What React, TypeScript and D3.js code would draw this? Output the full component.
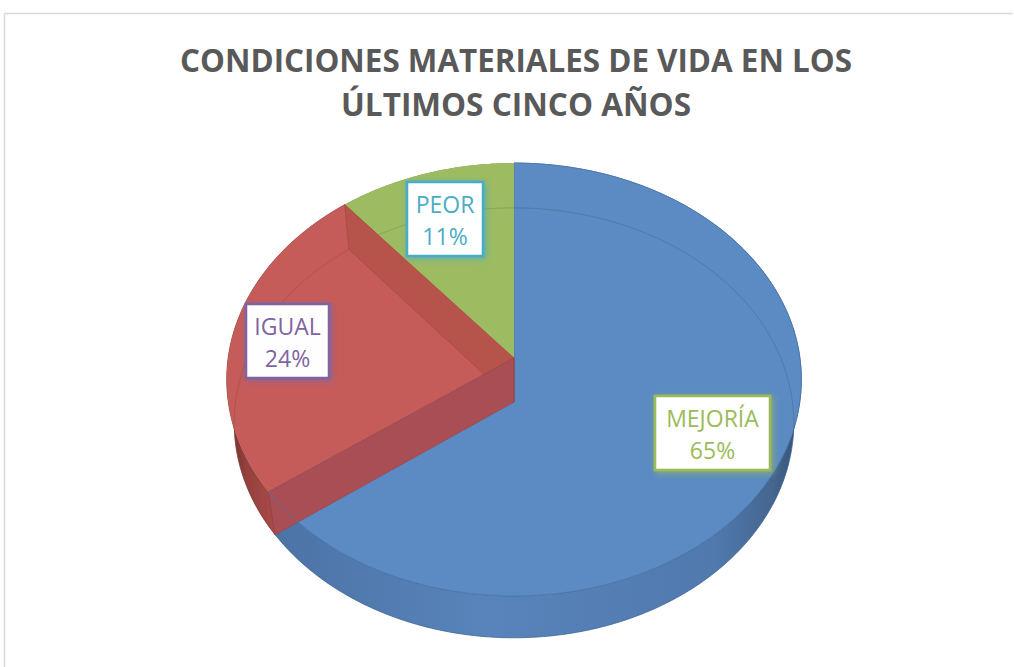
import React from "react";
import * as d3 from "d3";

// ---- data ----
const categories = ["MEJORÍA", "IGUAL", "PEOR"];
const values = [65, 24, 11];
const percentLabels = ["65%", "24%", "11%"];
const topColors = ["#5B8BC2", "#C55C59", "#9DBB61"];
const labelColors = ["#9BBB59", "#8064A2", "#4BACC6"];
const titleLines = ["CONDICIONES MATERIALES DE VIDA EN LOS", "ÚLTIMOS CINCO AÑOS"];

// ---- layout ----
const W = 1014;
const H = 667;
const CX = 514;
const CY = 358;
const D = 6.67;
const F = 1907;
const SIN = 0.7495;
const COS = Math.sqrt(1 - SIN * SIN);
const HT = 0.239;
const labelBoxes = [
  { cx: 712.5, cy: 433, w: 115, h: 74 },
  { cx: 287.5, cy: 341, w: 83, h: 74 },
  { cx: 445, cy: 219, w: 76, h: 74 },
];

function projXYZ(X: number, Y: number, Z: number): [number, number] {
  const yc = Y * COS + Z * SIN;
  const zc = D + Z * COS - Y * SIN;
  return [CX + (F * X) / zc, CY - (F * yc) / zc];
}
function proj(a: number, y: number): [number, number] {
  return projXYZ(Math.sin(a), y, Math.cos(a));
}
function arcPts(a0: number, a1: number, y: number): [number, number][] {
  const n = Math.max(4, Math.ceil(Math.abs(a1 - a0) / 0.01));
  const pts: [number, number][] = [];
  for (let i = 0; i <= n; i++) pts.push(proj(a0 + ((a1 - a0) * i) / n, y));
  return pts;
}
const line = d3.line<[number, number]>();
const closed = (pts: [number, number][]) => (line(pts) || "") + "Z";

export default function App() {
  const pie = d3
    .pie<number>()
    .sort(null)
    .startAngle(0)
    .endAngle(2 * Math.PI)(values);

  const cTop = projXYZ(0, 0, 0);
  const cBot = projXYZ(0, -HT, 0);

  const [blue, red, green] = pie;
  const sideWall = (a0: number, a1: number) =>
    closed([...arcPts(a0, a1, 0), ...arcPts(a1, a0, -HT)]);
  const topFace = (a0: number, a1: number) => closed([cTop, ...arcPts(a0, a1, 0)]);
  const radialWall = (a: number) => closed([cTop, proj(a, 0), proj(a, -HT), cBot]);

  return (
    <svg
      width={W}
      height={H}
      style={{ position: "absolute", left: 0, top: 0, background: "#fff" }}
      xmlns="http://www.w3.org/2000/svg"
    >
      <defs>
        <linearGradient id="blueSide" gradientUnits="userSpaceOnUse" x1={228} x2={802} y1={0} y2={0}>
          <stop offset="0" stopColor="#3E5D88" />
          <stop offset="0.08" stopColor="#4C73A6" />
          <stop offset="0.45" stopColor="#5884BB" />
          <stop offset="0.85" stopColor="#5079AE" />
          <stop offset="0.95" stopColor="#44668F" />
          <stop offset="1" stopColor="#33506F" />
        </linearGradient>
        <linearGradient id="redSide" gradientUnits="userSpaceOnUse" x1={228} x2={280} y1={0} y2={0}>
          <stop offset="0" stopColor="#6E2F2E" />
          <stop offset="0.35" stopColor="#94403E" />
          <stop offset="1" stopColor="#AD4C4A" />
        </linearGradient>
        {labelColors.map((c, i) => (
          <filter key={i} id={`glow${i}`} x="-30%" y="-30%" width="160%" height="160%">
            <feDropShadow dx="2" dy="2" stdDeviation="3" floodColor={c} floodOpacity="0.75" />
          </filter>
        ))}
      </defs>

      {/* chart frame */}
      <line x1={4.5} y1={13.5} x2={1013} y2={13.5} stroke="#D9D9D9" strokeWidth={1.5} />
      <line x1={4.5} y1={13.5} x2={4.5} y2={H} stroke="#D9D9D9" strokeWidth={1.5} />

      {/* title */}
      {titleLines.map((t, i) => (
        <text
          key={i}
          x={516}
          y={72 + i * 44}
          textAnchor="middle"
          fontFamily="'Open Sans', 'DejaVu Sans', sans-serif"
          fontWeight={700}
          fontSize={33}
          fill="#595959"
          textLength={i === 0 ? 672 : 350}
          lengthAdjust="spacingAndGlyphs"
        >
          {t}
        </text>
      ))}

      {/* outer side walls */}
      <path d={sideWall(green.startAngle, green.endAngle)} fill="#7E9A48" />
      <path d={sideWall(blue.startAngle, blue.endAngle)} fill="url(#blueSide)" stroke="#3F6394" strokeWidth={0.8} />
      <path d={sideWall(red.startAngle, red.endAngle)} fill="url(#redSide)" stroke="#7E3836" strokeWidth={0.6} />

      {/* top faces: blue and green */}
      <path d={topFace(blue.startAngle, blue.endAngle)} fill={topColors[0]} stroke="#4A77AD" strokeWidth={0.8} />
      <path d={topFace(green.startAngle, green.endAngle)} fill={topColors[2]} />

      {/* faint bottom outline seen through */}
      <path
        d={line(arcPts(red.startAngle, 2 * Math.PI + 1.75, -HT)) || ""}
        fill="none"
        stroke="#000"
        strokeOpacity={0.12}
        strokeWidth={1}
      />

      {/* red slice */}
      <path d={topFace(red.startAngle, red.endAngle)} fill={topColors[1]} />
      <path
        d={line(arcPts(red.startAngle, red.endAngle, -HT)) || ""}
        fill="none"
        stroke="#8E3E3B"
        strokeOpacity={0.35}
        strokeWidth={1}
      />
      <path d={radialWall(red.endAngle)} fill="#B6534A" stroke="#A2463F" strokeWidth={0.6} />
      <path d={radialWall(red.startAngle)} fill="#A94E55" stroke="#9A4344" strokeWidth={0.6} />
      <path
        d={line(arcPts(red.startAngle - 0.3, red.startAngle, 0)) || ""}
        fill="none"
        stroke="#4A77AD"
        strokeOpacity={0.8}
        strokeWidth={1}
      />
      <path
        d={line([cTop, cBot]) || ""}
        fill="none"
        stroke="#9A4344"
        strokeWidth={0.8}
      />

      {/* data labels */}
      {categories.map((c, i) => {
        const b = labelBoxes[i];
        return (
          <g key={c}>
            <rect
              x={b.cx - b.w / 2}
              y={b.cy - b.h / 2}
              width={b.w}
              height={b.h}
              fill="#FFFFFF"
              fillOpacity={0.9}
              stroke={labelColors[i]}
              strokeWidth={2.5}
              filter={`url(#glow${i})`}
            />
            <rect
              x={b.cx - b.w / 2}
              y={b.cy - b.h / 2}
              width={b.w}
              height={b.h}
              fill="#FFFFFF"
              fillOpacity={0.9}
              stroke={labelColors[i]}
              strokeWidth={2.5}
            />
            <text
              x={b.cx}
              y={b.cy - 6}
              textAnchor="middle"
              fontFamily="'Open Sans', 'DejaVu Sans', sans-serif"
              fontSize={23}
              fill={labelColors[i]}
            >
              {c}
            </text>
            <text
              x={b.cx}
              y={b.cy + 26}
              textAnchor="middle"
              fontFamily="'Open Sans', 'DejaVu Sans', sans-serif"
              fontSize={23}
              fill={labelColors[i]}
            >
              {percentLabels[i]}
            </text>
          </g>
        );
      })}
    </svg>
  );
}
